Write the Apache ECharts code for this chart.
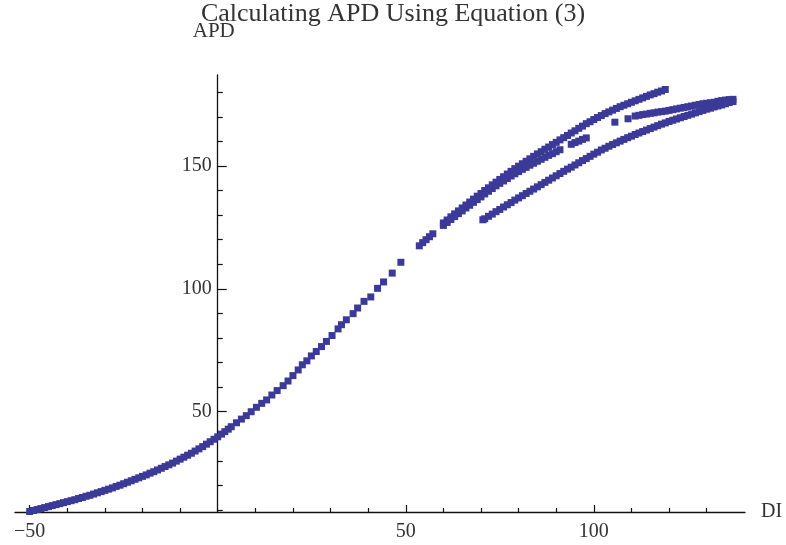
<!DOCTYPE html>
<html>
<head>
<meta charset="utf-8">
<title>Calculating APD Using Equation (3)</title>
<script src="https://cdn.jsdelivr.net/npm/echarts@6/dist/echarts.min.js"></script>
<style>
  html, body { margin: 0; padding: 0; background: #ffffff; }
  #chart { width: 786px; height: 545px; }
</style>
</head>
<body>
<div id="chart"></div>
<script>
// Restitution data: each point is [DI, APD]

// steep rising part of the curve, densely sampled
const lowerCurve = [
  [-51, 9.1], [-50, 9.4], [-49, 9.8], [-48, 10.2], [-47, 10.6], [-46, 11.0], [-45, 11.4],
  [-44, 11.8], [-43, 12.2], [-42, 12.6], [-41, 13.0], [-40, 13.4], [-39, 13.8], [-38, 14.2],
  [-37, 14.7], [-36, 15.1], [-35, 15.6], [-34, 16.0], [-33, 16.5], [-32, 17.0], [-31, 17.5],
  [-30, 18.0], [-29, 18.5], [-28, 19.0], [-27, 19.6], [-26, 20.1], [-25, 20.7], [-24, 21.3],
  [-23, 21.9], [-22, 22.5], [-21, 23.1], [-20, 23.7], [-19, 24.3], [-18, 25.0], [-17, 25.6],
  [-16, 26.3], [-15, 27.0], [-14, 27.7], [-13, 28.4], [-12, 29.1], [-11, 29.9], [-10, 30.7],
  [-9, 31.5], [-8, 32.3], [-7, 33.1], [-6, 34.0], [-5, 34.9], [-4, 35.8], [-3, 36.8],
  [-2, 37.8], [-1, 38.8], [0, 39.8]
];

// sparser middle part
const middleCurve = [
  [1.0, 40.9], [1.9, 41.9], [2.8, 42.9], [3.6, 43.9], [5.0, 45.5], [6.3, 47.0], [7.6, 48.4],
  [8.9, 50.0], [10.3, 51.8], [11.7, 53.4], [13.0, 54.8], [14.4, 56.8], [15.8, 58.6],
  [17.4, 60.6], [18.7, 62.5], [20.0, 64.7], [21.4, 67.0], [22.5, 69.1], [23.7, 70.7],
  [24.9, 72.7], [26.2, 74.5], [27.6, 76.5], [28.9, 78.6], [30.4, 81.0], [32.0, 83.7],
  [32.9, 85.4], [34.2, 87.4], [36.0, 89.9], [37.2, 92.2], [38.9, 94.9], [40.7, 96.7],
  [42.5, 100.2], [44.1, 102.8], [46.4, 106.4], [48.7, 110.8],
  [53.6, 117.5], [54.5, 118.8], [55.4, 120.0], [56.3, 121.2], [57.2, 122.4]
];

// upper branch
const branchUpper = [
  [60, 126.8], [61, 128.0], [62, 129.3], [63, 130.5], [64, 131.7], [65, 132.9], [66, 134.1],
  [67, 135.3], [68, 136.5], [69, 137.7], [70, 138.8], [71, 140.0], [72, 141.1], [73, 142.3],
  [74, 143.4], [75, 144.5], [76, 145.6], [77, 146.7], [78, 147.8], [79, 148.9], [80, 149.9],
  [81, 150.9], [82, 151.9], [83, 152.9], [84, 153.9], [85, 154.9], [86, 155.8], [87, 156.8],
  [88, 157.7], [89, 158.7], [90, 159.6], [91, 160.6], [92, 161.5], [93, 162.4], [94, 163.4],
  [95, 164.3], [96, 165.3], [97, 166.2], [98, 167.2], [99, 168.0], [100, 168.9], [101, 169.7],
  [102, 170.5], [103, 171.3], [104, 172.0], [105, 172.7], [106, 173.4], [107, 174.1],
  [108, 174.7], [109, 175.3], [110, 175.9], [111, 176.5], [112, 177.1], [113, 177.7],
  [114, 178.3], [115, 178.9], [116, 179.4], [117, 180.0], [118, 180.5], [119, 181.1]
];

// middle branch (broken into dashes and single points near DI 95-110)
const branchMiddle = [
  [60, 125.8], [61, 127.0], [62, 128.2], [63, 129.4], [64, 130.6], [65, 131.7], [66, 132.9],
  [67, 134.0], [68, 135.2], [69, 136.3], [70, 137.4], [71, 138.6], [72, 139.7], [73, 140.8],
  [74, 141.9], [75, 142.9], [76, 143.9], [77, 144.9], [78, 145.9], [79, 146.8], [80, 147.7],
  [81, 148.6], [82, 149.4], [83, 150.3], [84, 151.1], [85, 151.9], [86, 152.7], [87, 153.5],
  [88, 154.3], [89, 155.0], [90, 155.8], [91, 156.6],
  [94, 158.8], [95, 159.5], [96, 160.1], [97, 160.8], [98, 161.4],
  [105.6, 167.8], [109.1, 169.2],
  [111, 170.3], [112, 170.6], [113, 170.9], [114, 171.1], [115, 171.4], [116, 171.6],
  [117, 171.9], [118, 172.1], [119, 172.3], [120, 172.6], [121, 172.9], [122, 173.2],
  [123, 173.5], [124, 173.8], [125, 174.1], [126, 174.4], [127, 174.7], [128, 175.0],
  [129, 175.3], [130, 175.5], [131, 175.7], [132, 175.9], [133, 176.3], [134, 176.6],
  [135, 176.8], [136, 177.0], [137, 177.1]
];

// lower branch
const branchLower = [
  [70.5, 128.1], [71, 128.5], [72, 129.5], [73, 130.4], [74, 131.4], [75, 132.3], [76, 133.3],
  [77, 134.2], [78, 135.1], [79, 136.1], [80, 137.0], [81, 137.9], [82, 138.8], [83, 139.7],
  [84, 140.6], [85, 141.5], [86, 142.4], [87, 143.3], [88, 144.2], [89, 145.1], [90, 146.0],
  [91, 146.9], [92, 147.8], [93, 148.7], [94, 149.5], [95, 150.4], [96, 151.3], [97, 152.2],
  [98, 153.0], [99, 153.9], [100, 154.8], [101, 155.6], [102, 156.5], [103, 157.2],
  [104, 158.0], [105, 158.7], [106, 159.4], [107, 160.1], [108, 160.8], [109, 161.5],
  [110, 162.1], [111, 162.8], [112, 163.4], [113, 164.0], [114, 164.6], [115, 165.2],
  [116, 165.8], [117, 166.4], [118, 167.0], [119, 167.5], [120, 168.1], [121, 168.6],
  [122, 169.1], [123, 169.6], [124, 170.1], [125, 170.6], [126, 171.1], [127, 171.6],
  [128, 172.1], [129, 172.6], [130, 173.1], [131, 173.5], [132, 174.0], [133, 174.4],
  [134, 174.8], [135, 175.3], [136, 175.8], [137, 176.2]
];

// axis ticks
const xMajorTicks = [-50, 50, 100];
const xMinorTicks = [-40, -30, -20, -10, 10, 20, 30, 40, 60, 70, 80, 90, 110, 120, 130];
const yMajorTicks = [50, 100, 150];
const yMinorTicks = [10, 20, 30, 40, 60, 70, 80, 90, 110, 120, 130, 140, 160, 170, 180];

const SERIF = '"Liberation Serif", "Times New Roman", serif';
const TEXT = '#333333';
const POINT = '#3b3a98';
const AXIS = '#111111';

// plot area and axis extents
const GRID = { left: 15, right: 41, top: 75, bottom: 33 };
const WIDTH = 786;
const xRange = { min: -53.9, max: 140.2 };
const yRange = { min: 9.2, max: 187 };

// the vertical axis crosses at DI = 0; shift it from the plot's left edge to there
const plotWidth = WIDTH - GRID.left - GRID.right;
const yAxisShift = -plotWidth * (0 - xRange.min) / (xRange.max - xRange.min);

const chart = echarts.init(document.getElementById('chart'), null, { renderer: 'canvas' });

function pointSeries(data) {
  return {
    type: 'scatter',
    data: data,
    symbol: 'rect',
    symbolSize: 7,
    itemStyle: { color: POINT, opacity: 1 },
    xAxisIndex: 0,
    yAxisIndex: 0,
    silent: true
  };
}

chart.setOption({
  animation: false,
  backgroundColor: '#ffffff',
  title: {
    text: 'Calculating APD Using Equation (3)',
    left: 'center',
    top: 1,
    padding: 0,
    textStyle: { fontFamily: SERIF, fontSize: 26, fontWeight: 'normal', color: TEXT }
  },
  grid: Object.assign({ outerBoundsMode: 'none' }, GRID),
  xAxis: [
    {
      type: 'value', min: xRange.min, max: xRange.max,
      name: 'DI', nameLocation: 'end', nameGap: 16,
      nameTextStyle: { fontFamily: SERIF, fontSize: 20, color: TEXT },
      axisLine: { show: true, onZero: false, lineStyle: { color: AXIS, width: 1.3 } },
      axisTick: { show: true, inside: true, length: 7, customValues: xMajorTicks,
                  lineStyle: { color: AXIS, width: 1.2 } },
      axisLabel: { show: true, customValues: xMajorTicks, margin: 10,
                   fontFamily: SERIF, fontSize: 20, color: TEXT,
                   formatter: v => String(v).replace('-', '\u2212') },
      splitLine: { show: false }
    },
    {
      type: 'value', min: xRange.min, max: xRange.max, position: 'bottom',
      axisLine: { show: false, onZero: false },
      axisTick: { show: true, inside: true, length: 4, customValues: xMinorTicks,
                  lineStyle: { color: AXIS, width: 1.2 } },
      axisLabel: { show: false },
      splitLine: { show: false }
    }
  ],
  yAxis: [
    {
      type: 'value', min: yRange.min, max: yRange.max, position: 'left', offset: yAxisShift,
      name: 'APD', nameLocation: 'end', nameGap: 33,
      nameTextStyle: { fontFamily: SERIF, fontSize: 21, color: TEXT,
                       align: 'center', verticalAlign: 'bottom', padding: [0, 8, 0, 0] },
      axisLine: { show: true, onZero: false, lineStyle: { color: AXIS, width: 1.3 } },
      axisTick: { show: true, inside: true, length: 9, customValues: yMajorTicks,
                  lineStyle: { color: AXIS, width: 1.2 } },
      axisLabel: { show: true, customValues: yMajorTicks, margin: 6,
                   fontFamily: SERIF, fontSize: 20, color: TEXT },
      splitLine: { show: false }
    },
    {
      type: 'value', min: yRange.min, max: yRange.max, position: 'left', offset: yAxisShift,
      axisLine: { show: false, onZero: false },
      axisTick: { show: true, inside: true, length: 5, customValues: yMinorTicks,
                  lineStyle: { color: AXIS, width: 1.2 } },
      axisLabel: { show: false },
      splitLine: { show: false }
    }
  ],
  series: [
    pointSeries(lowerCurve),
    pointSeries(middleCurve),
    pointSeries(branchUpper),
    pointSeries(branchMiddle),
    pointSeries(branchLower)
  ]
});
</script>
</body>
</html>
